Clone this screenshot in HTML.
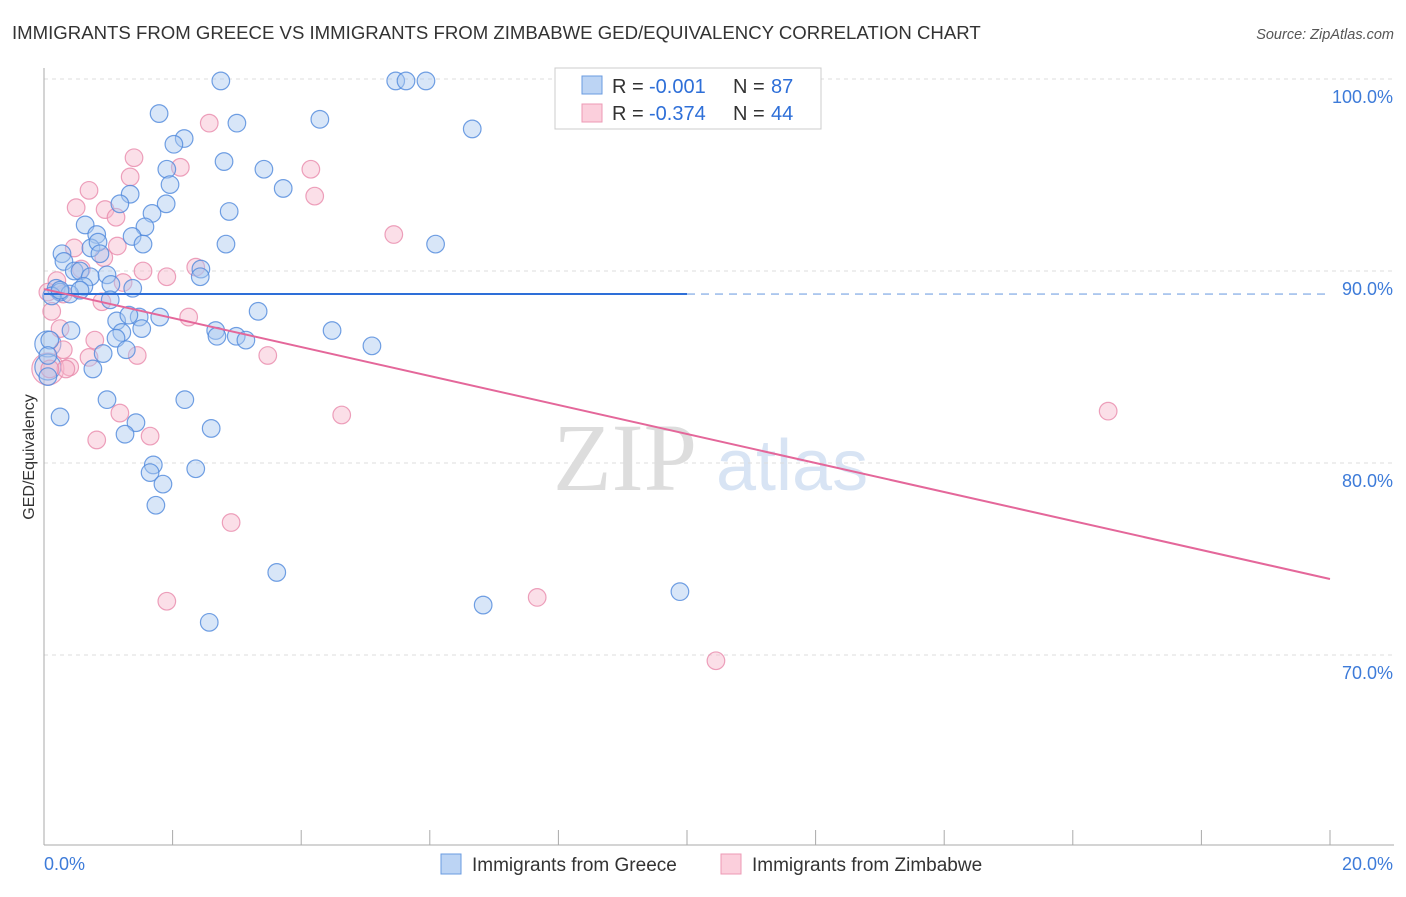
<!DOCTYPE html>
<html><head><meta charset="utf-8"><style>
body{margin:0;background:#fff;font-family:"Liberation Sans",sans-serif}
</style></head><body>
<svg id="c" width="1406" height="892" xmlns="http://www.w3.org/2000/svg" font-family="Liberation Sans, sans-serif">
<text x="12" y="39" font-size="18.6" fill="#333">IMMIGRANTS FROM GREECE VS IMMIGRANTS FROM ZIMBABWE GED/EQUIVALENCY CORRELATION CHART</text>
<text x="1394" y="39" font-size="14.5" fill="#555" text-anchor="end" font-style="italic">Source: ZipAtlas.com</text>
<text x="553" y="490" font-size="96" fill="#ddd" font-family="Liberation Serif, serif">ZIP</text>
<text x="716" y="490" font-size="72" fill="#d8e4f4">atlas</text>
<text transform="translate(34,457) rotate(-90)" font-size="16" fill="#333" text-anchor="middle">GED/Equivalency</text>
<g id="grid"></g><g id="pts"></g><g id="trend"></g>
<g>
<rect x="555" y="68" width="266" height="61" fill="#fff" stroke="#ccc"/>
<rect x="582" y="76" width="20" height="18" fill="#bcd4f4" stroke="#6a9be0"/>
<rect x="582" y="104" width="20" height="18" fill="#fbcfdc" stroke="#ec9ab5"/>
<text x="612" y="93" font-size="20" fill="#333">R =</text>
<text x="649" y="93" font-size="20" fill="#2e6fd8">-0.001</text>
<text x="733" y="93" font-size="20" fill="#333">N =</text>
<text x="771" y="93" font-size="20" fill="#2e6fd8">87</text>
<text x="612" y="120" font-size="20" fill="#333">R =</text>
<text x="649" y="120" font-size="20" fill="#2e6fd8">-0.374</text>
<text x="733" y="120" font-size="20" fill="#333">N =</text>
<text x="771" y="120" font-size="20" fill="#2e6fd8">44</text>
</g>
<g>
<rect x="441" y="854" width="20" height="20" fill="#bcd4f4" stroke="#6a9be0"/>
<text x="472" y="871" font-size="19" fill="#333">Immigrants from Greece</text>
<rect x="721" y="854" width="20" height="20" fill="#fbcfdc" stroke="#ec9ab5"/>
<text x="752" y="871" font-size="19" fill="#333">Immigrants from Zimbabwe</text>
</g>
</svg>
<script>
const yTicks=[100,90,80,70];
const yTickLabels=["100.0%","90.0%","80.0%","70.0%"];
const xTicks=[0,2,4,6,8,10,12,14,16,18,20];
const xEndLabels=["0.0%","20.0%"];
const greeceX=[2.75,5.47,5.63,5.94,1.79,3.00,4.29,6.66,2.18,2.02,2.80,3.42,1.91,1.96,1.34,3.72,1.18,1.90,1.68,2.88,1.57,0.64,1.37,0.82,1.54,2.83,6.09,0.73,0.84,0.87,0.28,0.31,0.47,0.56,0.72,0.98,2.44,2.43,0.19,0.62,0.25,0.40,0.56,1.04,1.38,1.03,3.33,1.80,1.48,1.13,1.32,1.52,1.21,1.12,2.67,2.69,2.99,3.14,4.48,5.10,0.09,0.06,0.42,1.28,0.92,0.76,0.98,1.43,2.19,1.26,2.60,0.25,1.70,1.65,2.36,1.85,1.74,3.62,2.57,6.83,9.89,0.06,0.12,0.25];
const greeceY=[99.9,99.9,99.9,99.9,98.2,97.7,97.9,97.4,96.9,96.6,95.7,95.3,95.3,94.5,94.0,94.3,93.5,93.5,93.0,93.1,92.3,92.4,91.8,91.9,91.4,91.4,91.4,91.2,91.5,90.9,90.9,90.5,90.0,90.0,89.7,89.8,90.1,89.7,89.1,89.2,88.9,88.8,89.0,89.3,89.1,88.5,87.9,87.6,87.6,87.4,87.7,87.0,86.8,86.5,86.9,86.6,86.6,86.4,86.9,86.1,86.4,85.6,86.9,85.9,85.7,84.9,83.3,82.1,83.3,81.5,81.8,82.4,79.9,79.5,79.7,78.9,77.8,74.3,71.7,72.6,73.3,84.5,88.7,89.0];
const zimX=[2.57,1.40,2.12,1.34,4.15,4.21,0.70,0.50,0.95,1.12,5.44,1.14,0.47,0.93,1.54,0.58,2.36,1.91,1.23,0.20,0.30,0.90,0.12,2.25,0.25,0.79,0.30,1.45,3.48,0.70,0.40,0.34,0.09,1.18,4.63,1.65,0.82,16.55,2.91,1.91,7.67,10.45,0.06];
const zimY=[97.7,95.9,95.4,94.9,95.3,93.9,94.2,93.3,93.2,92.8,91.9,91.3,91.2,90.7,90.0,90.1,90.2,89.7,89.4,89.5,88.8,88.4,87.9,87.6,87.0,86.4,85.9,85.6,85.6,85.5,85.0,84.9,84.9,82.6,82.5,81.4,81.2,82.7,76.9,72.8,73.0,69.7,88.9];
const bigGreeceX=[0.06,0.06], bigGreeceY=[86.2,85.0];
const bigZimX=[0.06], bigZimY=[84.9];
const greeceTrend=[[0,88.8],[10,88.8],[20,88.8]];
const zimTrend=[[0,89.06],[20,73.96]];
const NS="http://www.w3.org/2000/svg";
const X=v=>44+v/20*1286, Y=v=>79+(100-v)*19.2;
function mk(t,a,p){const e=document.createElementNS(NS,t);for(const k in a)e.setAttribute(k,a[k]);p.appendChild(e);return e;}
const g=document.getElementById('grid');
yTicks.forEach((t,i)=>{
 const l=mk('line',{x1:44,x2:1394,y1:Y(t),y2:Y(t),stroke:'#ddd','stroke-dasharray':'4,4'},g);
 
 
 const tx=mk('text',{x:1393,y:Y(t)+24,'font-size':18,fill:'#3d7bd9','text-anchor':'end'},g);
 tx.textContent=yTickLabels[i];
 
 
});
const ax=mk('line',{x1:44,x2:44,y1:68,y2:845,stroke:'#aaa'},g);


const bx=mk('line',{x1:44,x2:1394,y1:845,y2:845,stroke:'#aaa'},g);


xTicks.forEach(t=>{
 const l=mk('line',{x1:X(t),x2:X(t),y1:830,y2:845,stroke:'#aaa'},g);
 
 
});
[[0,'start',44],[20,'end',1393]].forEach((d,i)=>{
 const tx=mk('text',{x:d[2],y:870,'font-size':18,fill:'#3d7bd9','text-anchor':d[1]},g);
 tx.textContent=xEndLabels[i];
 
 
});
const p=document.getElementById('pts');
function dots(xs,ys,r,fill,stroke,name,op){xs.forEach((x,i)=>{
 const c=mk('circle',{cx:X(x),cy:Y(ys[i]),r:r,fill:fill,'fill-opacity':op,stroke:stroke,'stroke-opacity':0.8,'stroke-width':1.2},p);
 
 
});}
dots(bigZimX,bigZimY,16,'#f7b9cc','#e98aab','zimbabwe-point',0.3);
dots(bigGreeceX,bigGreeceY,13,'#a9c7ef','#4f88dc','greece-point',0.3);
dots(zimX,zimY,8.8,'#f7b9cc','#e98aab','zimbabwe-point',0.45);
dots(greeceX,greeceY,8.8,'#a9c7ef','#4f88dc','greece-point',0.45);
const tr=document.getElementById('trend');
const l1=mk('line',{x1:X(greeceTrend[0][0]),y1:Y(greeceTrend[0][1]),x2:X(greeceTrend[1][0]),y2:Y(greeceTrend[1][1]),stroke:'#2e6fd8','stroke-width':2},tr);


const l2=mk('line',{x1:X(greeceTrend[1][0]),y1:Y(greeceTrend[1][1]),x2:X(greeceTrend[2][0]),y2:Y(greeceTrend[2][1]),stroke:'#8fb3e8','stroke-width':1.3,'stroke-dasharray':'8,6'},tr);


const l3=mk('line',{x1:X(zimTrend[0][0]),y1:Y(zimTrend[0][1]),x2:X(zimTrend[1][0]),y2:Y(zimTrend[1][1]),stroke:'#e4679a','stroke-width':2},tr);


</script>
</body></html>
